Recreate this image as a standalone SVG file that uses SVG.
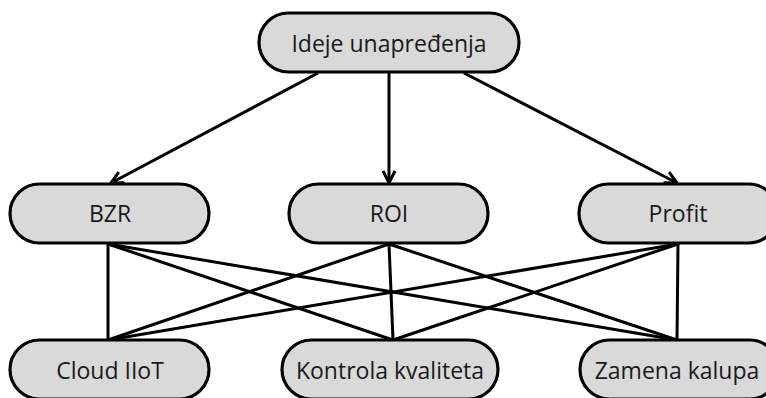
<svg xmlns="http://www.w3.org/2000/svg" width="766" height="398" viewBox="0 0 766 398">
<style>
.n rect{fill:#d9d9d9;stroke:#000;stroke-width:3.2}
.n text{font-family:"Open Sans","Noto Sans",sans-serif;font-size:23px;fill:#1a1a1a;text-anchor:middle;dominant-baseline:central}
#edges line{stroke:#000;stroke-width:3}
</style>
<defs>
<marker id="ah" viewBox="0 0 10 10" refX="9" refY="5" markerWidth="5" markerHeight="5" orient="auto" markerUnits="strokeWidth">
<path d="M1,1 L9,5 L1,9" fill="none" stroke="#000" stroke-width="2"/>
</marker>
</defs>
<rect width="766" height="398" fill="#fff"/>
<g id="edges">
<line x1="318" y1="73" x2="111" y2="183" marker-end="url(#ah)"/>
<line x1="389" y1="72" x2="389" y2="183" marker-end="url(#ah)"/>
<line x1="464" y1="73" x2="677" y2="183" marker-end="url(#ah)"/>
<line x1="108" y1="244" x2="108" y2="340"/>
<line x1="108" y1="244" x2="393" y2="340"/>
<line x1="108" y1="244" x2="677" y2="340"/>
<line x1="389" y1="244" x2="108" y2="340"/>
<line x1="389" y1="244" x2="393" y2="340"/>
<line x1="389" y1="244" x2="677" y2="340"/>
<line x1="678" y1="244" x2="108" y2="340"/>
<line x1="678" y1="244" x2="393" y2="340"/>
<line x1="678" y1="244" x2="677" y2="340"/>
</g>
<g id="ideje" class="n"><rect x="259" y="13" width="260" height="59" rx="29.5"/><text x="389" y="43">Ideje unapređenja</text></g>
<g id="bzr" class="n"><rect x="10" y="184" width="199" height="59" rx="29.5"/><text x="110" y="213">BZR</text></g>
<g id="roi" class="n"><rect x="289" y="184" width="199" height="59" rx="29.5"/><text x="389" y="213">ROI</text></g>
<g id="profit" class="n"><rect x="579" y="184" width="199" height="59" rx="29.5"/><text x="678" y="213">Profit</text></g>
<g id="cloud" class="n"><rect x="10" y="340" width="199" height="59" rx="29.5"/><text x="110" y="370">Cloud IIoT</text></g>
<g id="kontrola" class="n"><rect x="282" y="340" width="216" height="59" rx="29.5"/><text x="390" y="370">Kontrola kvaliteta</text></g>
<g id="zamena" class="n"><rect x="580" y="340" width="199" height="59" rx="29.5"/><text x="677" y="370">Zamena kalupa</text></g>
</svg>
